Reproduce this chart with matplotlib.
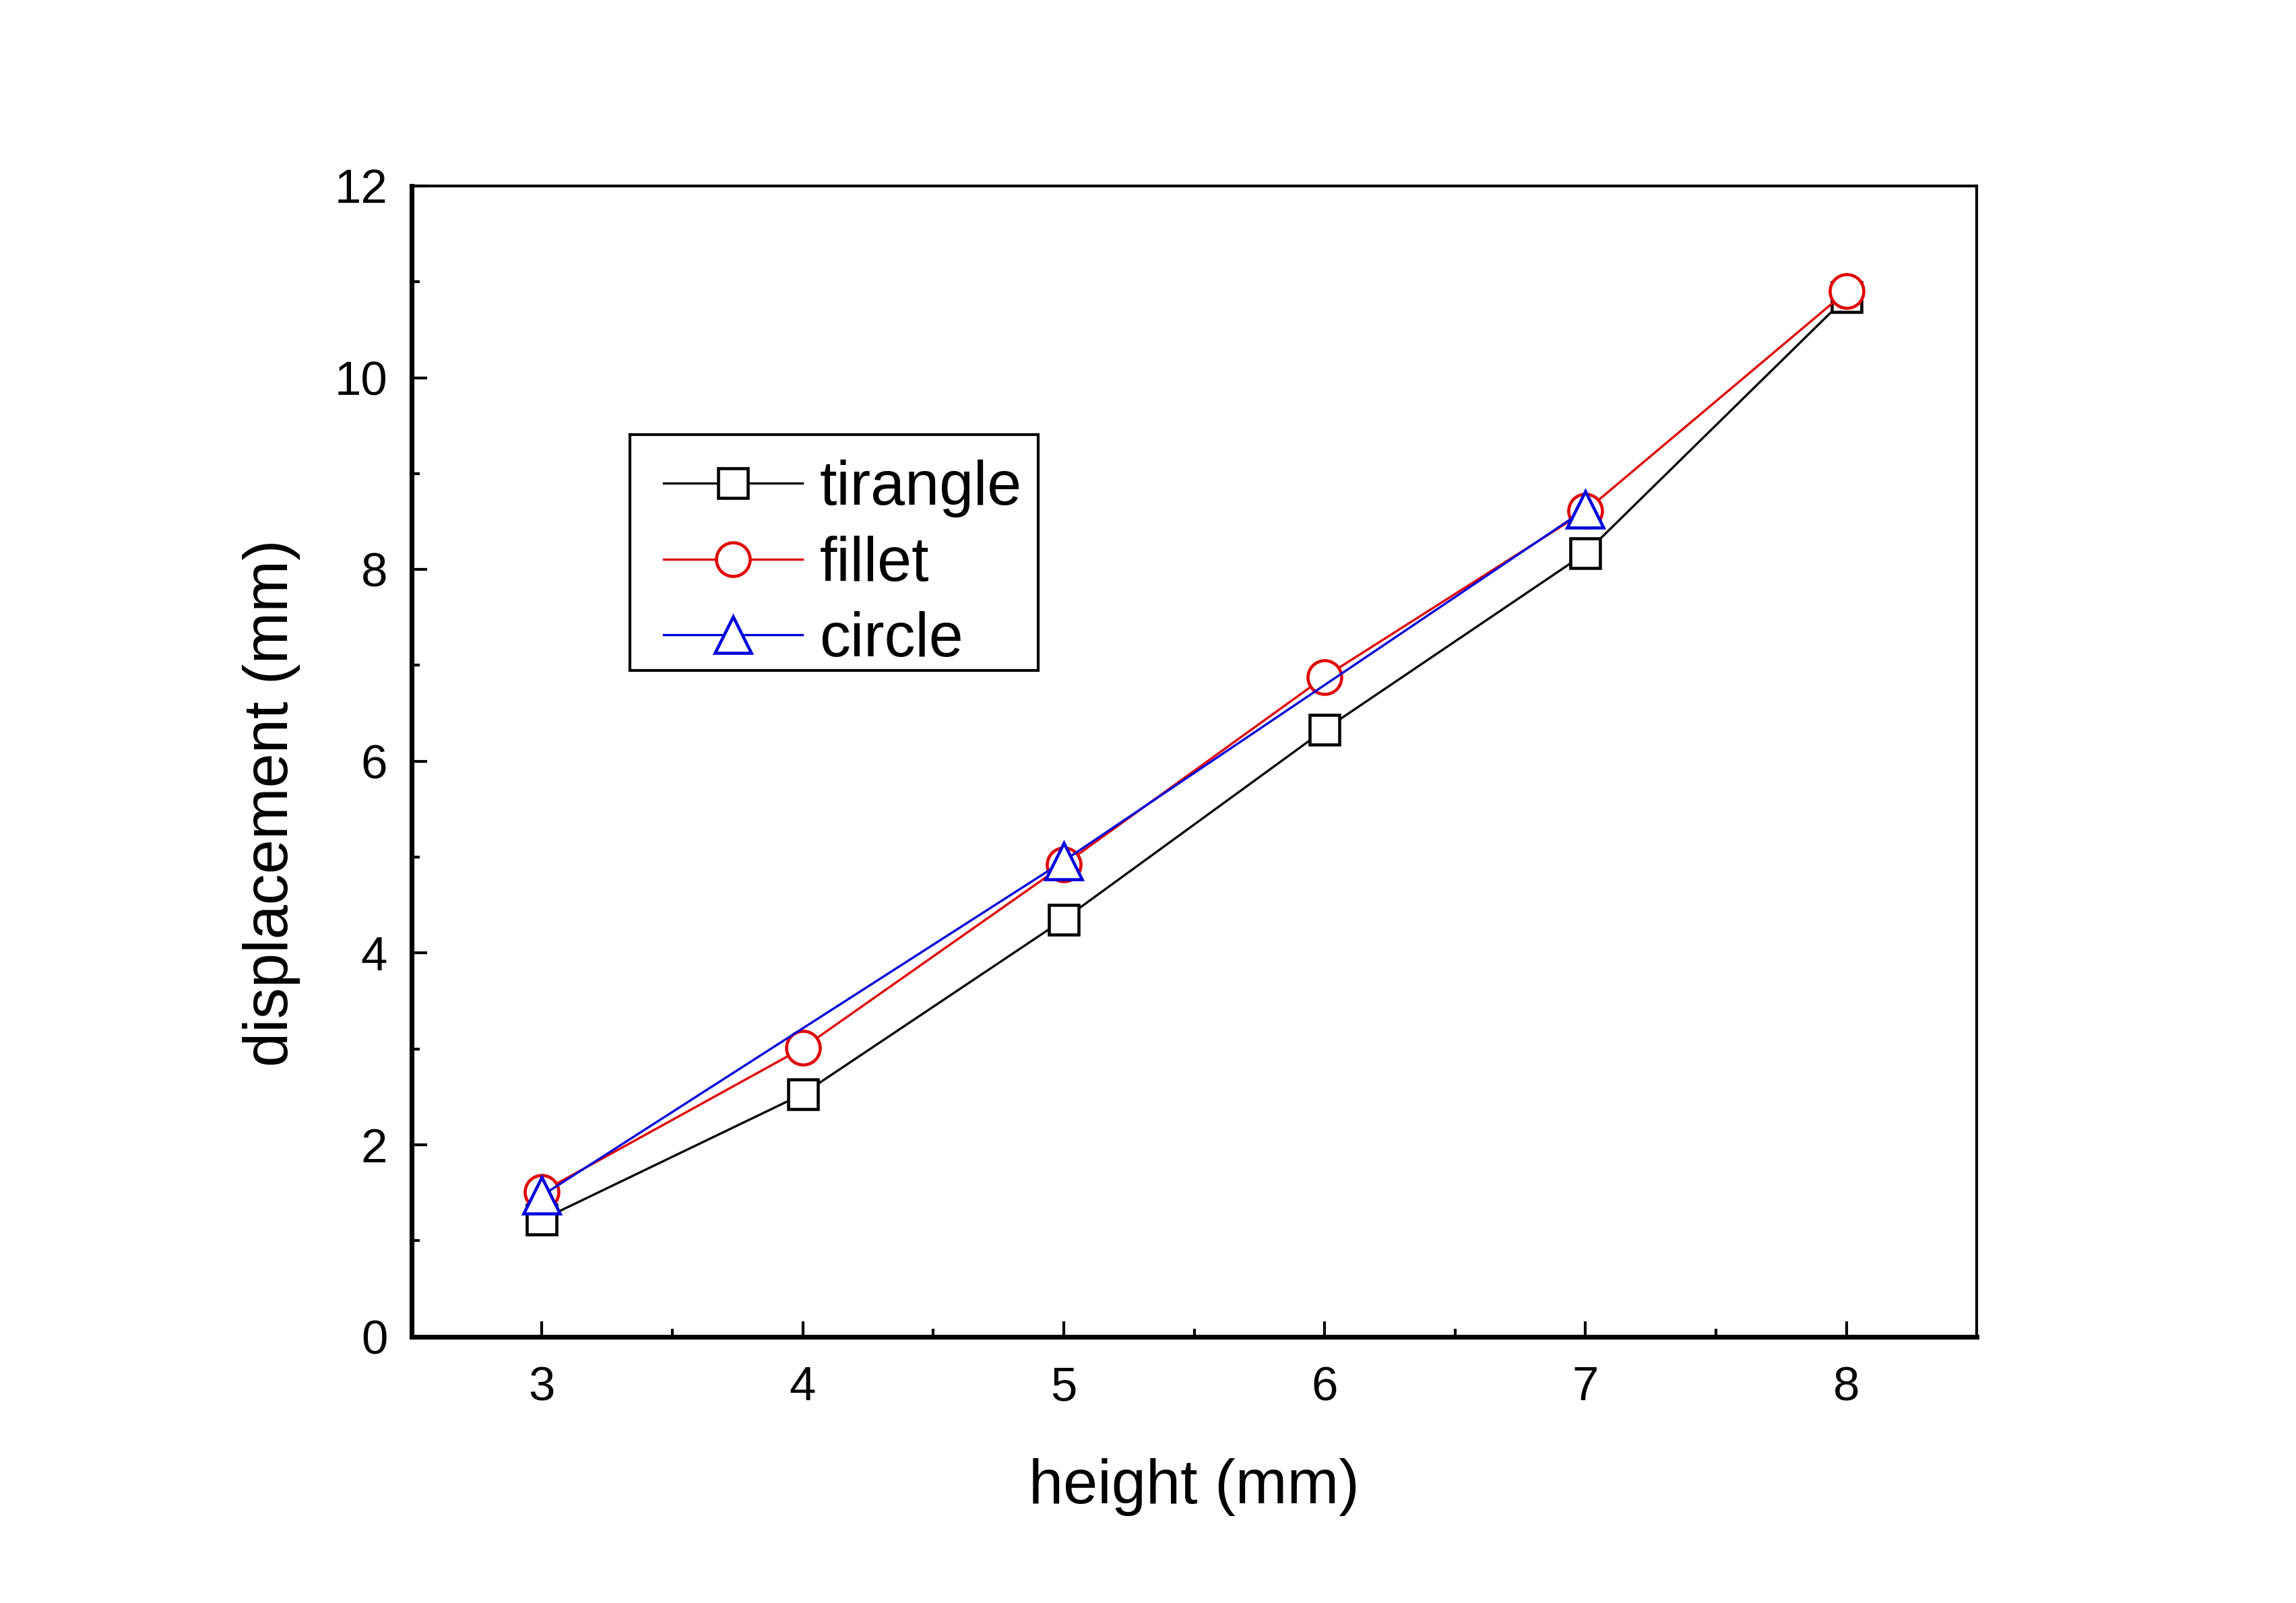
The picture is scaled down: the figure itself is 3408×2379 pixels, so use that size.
import matplotlib
matplotlib.use("Agg")
import matplotlib.pyplot as plt
from matplotlib.ticker import MultipleLocator
from matplotlib.patches import Rectangle

plt.rcParams['font.family'] = ['Liberation Sans', 'DejaVu Sans']

height_tri = [3, 4, 5, 6, 7, 8]
disp_tri = [1.22, 2.53, 4.35, 6.33, 8.17, 10.84]

height_fil = [3, 4, 5, 6, 7, 8]
disp_fil = [1.51, 3.01, 4.92, 6.88, 8.61, 10.90]

height_cir = [3, 5, 7]
disp_cir = [1.47, 4.96, 8.63]

labels = ["tirangle", "fillet", "circle"]
xticks = [3, 4, 5, 6, 7, 8]
yticks = [0, 2, 4, 6, 8, 10, 12]

fig = plt.figure(figsize=(3408 / 300, 2379 / 300), dpi=300)
ax = fig.add_axes([0.1792, 0.1662, 0.861 - 0.1792, 0.884 - 0.1662])

lw = 0.8
mew = 1.1
ax.plot(height_tri, disp_tri, color='black', lw=lw, marker='s', ms=10.5,
        mfc='white', mec='black', mew=mew, label=labels[0])
ax.plot(height_fil, disp_fil, color='#e00000', lw=lw, marker='o', ms=12,
        mfc='white', mec='#e00000', mew=mew, label=labels[1])
ax.plot(height_cir, disp_cir, color='#0000dd', lw=lw, marker='^', ms=13,
        mfc='white', mec='#0000dd', mew=mew, label=labels[2])

ax.set_xlim(2.5, 8.5)
ax.set_ylim(0, 12)
ax.set_xticks(xticks)
ax.set_yticks(yticks)
ax.xaxis.set_minor_locator(MultipleLocator(0.5))
ax.yaxis.set_minor_locator(MultipleLocator(1))

ax.tick_params(which='both', direction='in', top=False, right=False,
               labelsize=17, width=1.0, color='black')
ax.tick_params(which='major', length=5.5)
ax.tick_params(which='minor', length=2.8)
ax.tick_params(axis='x', which='major', pad=10.5)
ax.tick_params(axis='y', which='major', pad=8.5)

for side in ['left', 'bottom']:
    ax.spines[side].set_linewidth(1.7)
for side in ['top', 'right']:
    ax.spines[side].set_linewidth(1.0)

ax.set_xlabel("height (mm)", fontsize=22.1, labelpad=17)
ax.set_ylabel("displacement (mm)", fontsize=22.1, labelpad=12)
ax.yaxis.label.set_y(0.464)

# legend frame (Origin-style box)
ax.add_patch(Rectangle((0.1394, 0.5789), 0.4004 - 0.1394, 0.7837 - 0.5789,
                       transform=ax.transAxes, facecolor='white',
                       edgecolor='black', linewidth=1.0, zorder=4))

leg = ax.legend(loc='upper left', bbox_to_anchor=(0.1609, 0.7621),
                borderaxespad=0, fontsize=22, frameon=False,
                handlelength=2.25, handletextpad=0.28, labelspacing=0.29,
                borderpad=0.0)
leg.set_zorder(5)

fig.savefig("out.png", dpi=300)
